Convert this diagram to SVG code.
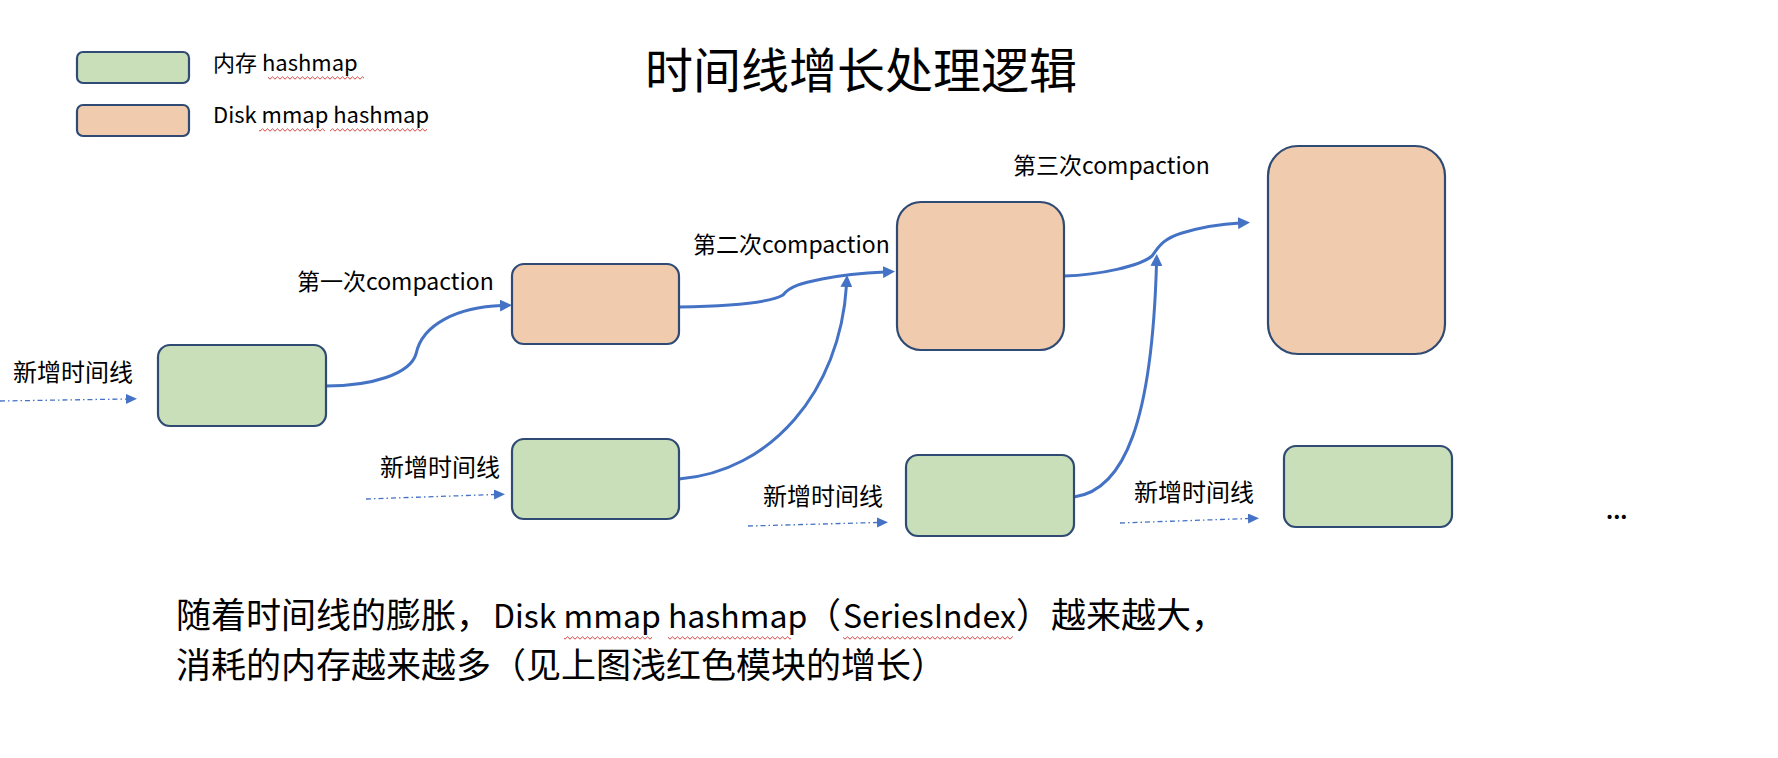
<svg xmlns="http://www.w3.org/2000/svg" width="1778" height="758" viewBox="0 0 1778 758">
<style>
text{font-family:"Noto Sans CJK SC","Noto Sans",sans-serif;fill:#000}
.green{fill:#C8DFB9;stroke:#2F4A73;stroke-width:2.2}
.orange{fill:#F0CBAE;stroke:#2F4A73;stroke-width:2.2}
.conn{fill:none;stroke:#4472C4;stroke-width:3;marker-end:url(#ah)}
.dash{fill:none;stroke:#4472C4;stroke-width:1.3;stroke-dasharray:5 3 1.5 3;marker-end:url(#ahs)}
.lbl{font-size:23px}
.new{font-size:24px}
.sq{fill:url(#wavy)}
.cap{font-size:35px}
.lat{font-size:32px}
</style>
<defs>
<marker id="ah" markerUnits="userSpaceOnUse" markerWidth="14" markerHeight="12" refX="2" refY="6" orient="auto">
<path d="M0,0 L12,6 L0,12 z" fill="#4472C4"/>
</marker>
<marker id="ahs" markerUnits="userSpaceOnUse" markerWidth="12" markerHeight="12" refX="1" refY="5" orient="auto">
<path d="M0,0 L11,5 L0,10 z" fill="#4472C4"/>
</marker>
<pattern id="wavy" patternUnits="userSpaceOnUse" width="5" height="4">
<path d="M0,3.2 L2.5,0.8 L5,3.2" fill="none" stroke="#D0312D" stroke-width="0.9"/>
</pattern>
</defs>

<g id="legend">
<rect class="green" x="77" y="52" width="112" height="31" rx="6"/>
<rect class="orange" x="77" y="105" width="112" height="31" rx="6"/>
<text x="213" y="71" font-size="22">内存 hashmap</text>
<text x="213" y="123" font-size="22">Disk mmap hashmap</text>
<rect class="sq" x="268" y="76" width="96" height="4"/>
<rect class="sq" x="259" y="128" width="66" height="4"/>
<rect class="sq" x="330" y="128" width="97" height="4"/>
</g>

<g id="title">
<text x="861" y="88" font-size="48" text-anchor="middle">时间线增长处理逻辑</text>
</g>

<g id="connectors">
<path class="conn" d="M326,386 C372,386 410,374 416,354 C422,324 458,307 502,305.5"/>
<path class="conn" d="M679,307 C730,306 772,302 783,295 C790,286 802,283 822,279 C842,275 862,273 885,272"/>
<path class="conn" d="M679,479 C770,472 840,392 846.5,285"/>
<path class="conn" d="M1064,276 C1100,275 1140,266 1152,256 C1158,248 1162,239 1182,233 C1202,227 1220,224 1240,223"/>
<path class="conn" d="M1074,497 C1125,490 1152,420 1156.5,264"/>
<path class="dash" d="M0,401 L127,399"/>
<path class="dash" d="M366,499 L495,494.5"/>
<path class="dash" d="M748,526 L878,522.5"/>
<path class="dash" d="M1120,523 L1249,518.5"/>
</g>

<g id="green1"><rect class="green" x="158" y="345" width="168" height="81" rx="12"/></g>
<g id="orange1"><rect class="orange" x="512" y="264" width="167" height="80" rx="12"/></g>
<g id="green2"><rect class="green" x="512" y="439" width="167" height="80" rx="12"/></g>
<g id="orange2"><rect class="orange" x="897" y="202" width="167" height="148" rx="24"/></g>
<g id="green3"><rect class="green" x="906" y="455" width="168" height="81" rx="12"/></g>
<g id="orange3"><rect class="orange" x="1268" y="146" width="177" height="208" rx="30"/></g>
<g id="green4"><rect class="green" x="1284" y="446" width="168" height="81" rx="12"/></g>

<g id="labels">
<text class="lbl" x="297" y="290">第一次compaction</text>
<text class="lbl" x="693" y="253">第二次compaction</text>
<text class="lbl" x="1013" y="174">第三次compaction</text>
<text class="new" x="13" y="381">新增时间线</text>
<text class="new" x="380" y="476">新增时间线</text>
<text class="new" x="763" y="505">新增时间线</text>
<text class="new" x="1134" y="501">新增时间线</text>
<text x="1606" y="519" font-size="22" font-weight="bold">...</text>
</g>

<g id="caption">
<text class="cap" x="176" y="628">随着时间线的膨胀，</text>
<text class="lat" x="493" y="628">Disk mmap hashmap</text>
<text class="cap" x="806" y="628">（</text>
<text class="lat" x="843" y="628">SeriesIndex</text>
<text class="cap" x="1016" y="628">）越来越大，</text>
<text class="cap" x="176" y="678">消耗的内存越来越多（见上图浅红色模块的增长）</text>
<rect class="sq" x="564" y="636" width="88" height="4"/>
<rect class="sq" x="668" y="636" width="123" height="4"/>
<rect class="sq" x="843" y="636" width="170" height="4"/>
</g>
</svg>
